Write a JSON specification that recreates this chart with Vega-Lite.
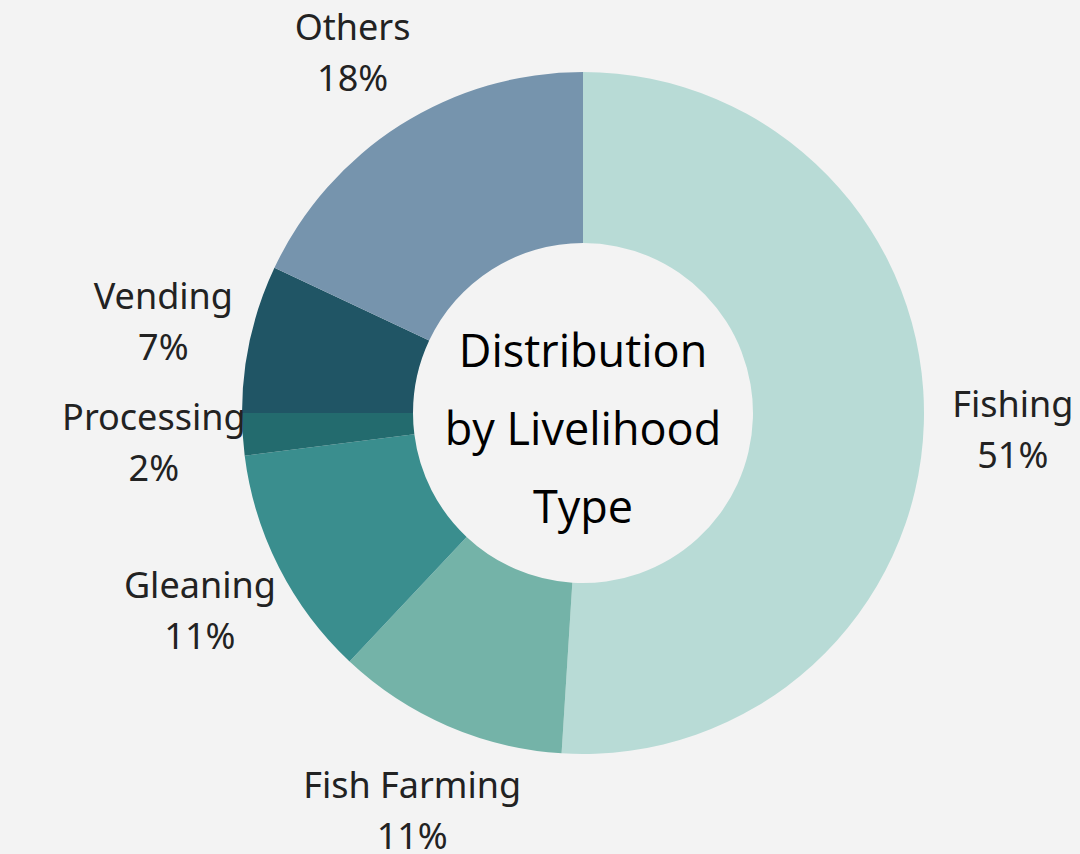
{
  "$schema": "https://vega.github.io/schema/vega-lite/v6.json",
  "width": 994,
  "height": 826,
  "autosize": {"type": "none"},
  "padding": {"left": 86, "top": 0, "right": 0, "bottom": 28},
  "background": "#f3f3f3",
  "config": {"view": {"stroke": null}},
  "data": {
    "values": [
      {"type": "Fishing", "pct": 51, "order": 1},
      {"type": "Fish Farming", "pct": 11, "order": 2},
      {"type": "Gleaning", "pct": 11, "order": 3},
      {"type": "Processing", "pct": 2, "order": 4},
      {"type": "Vending", "pct": 7, "order": 5},
      {"type": "Others", "pct": 18, "order": 6}
    ]
  },
  "transform": [{"calculate": "datum.pct + '%'", "as": "pctLabel"}],
  "encoding": {
    "theta": {"field": "pct", "type": "quantitative", "stack": true},
    "order": {"field": "order", "type": "quantitative"},
    "color": {
      "field": "type",
      "type": "nominal",
      "legend": null,
      "scale": {
        "domain": ["Fishing", "Fish Farming", "Gleaning", "Processing", "Vending", "Others"],
        "range": ["#b8dbd6", "#74b3a8", "#3a8e8e", "#236b6e", "#205565", "#7694ad"]
      }
    }
  },
  "layer": [
    {"mark": {"type": "arc", "innerRadius": 170, "outerRadius": 341}},
    {
      "mark": {"type": "text", "radius": 430, "dy": -21, "fontSize": 36, "font": "Noto Sans", "color": "#222222"},
      "encoding": {"text": {"field": "type"}, "color": {"value": "#222222"}}
    },
    {
      "mark": {"type": "text", "radius": 430, "dy": 30, "fontSize": 36, "font": "Noto Sans", "color": "#222222"},
      "encoding": {"text": {"field": "pctLabel"}, "color": {"value": "#222222"}}
    },
    {
      "data": {"values": [{"title": "Distribution by Livelihood Type"}]},
      "transform": [],
      "mark": {"type": "text", "fontSize": 45, "font": "Open Sans", "color": "#000000", "lineHeight": 78, "dy": -60, "baseline": "middle", "align": "center"},
      "encoding": {
        "theta": null,
        "order": null,
        "color": null,
        "text": {"value": ["Distribution", "by Livelihood", "Type"]}
      }
    }
  ]
}
